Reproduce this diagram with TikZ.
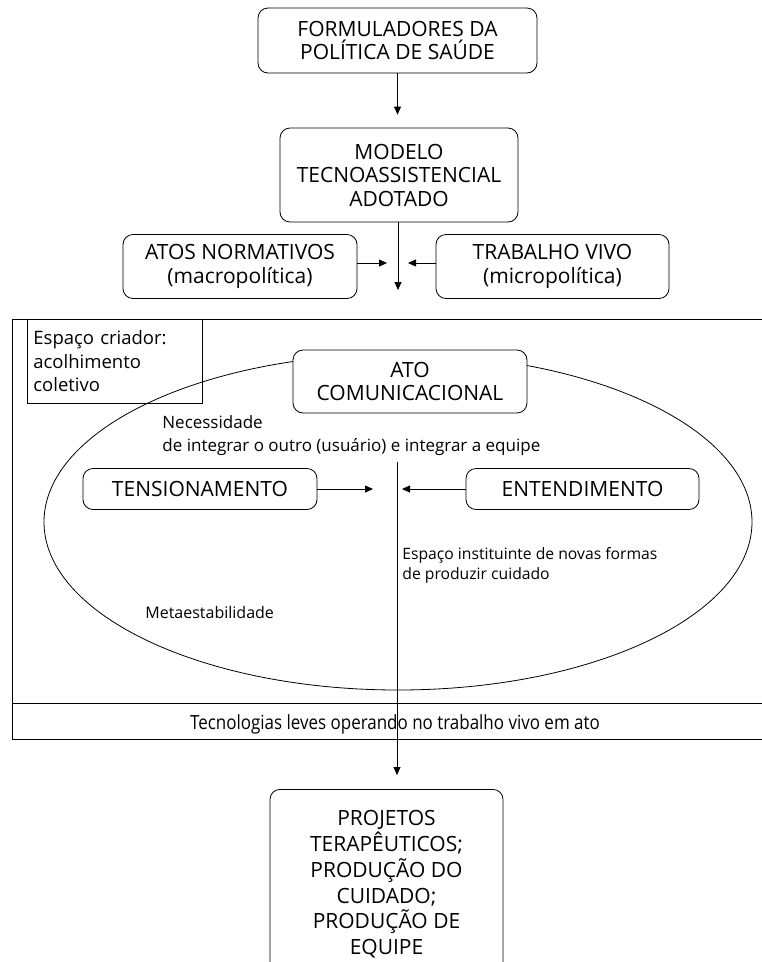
\documentclass[tikz,border=0pt]{standalone}
\usepackage{fontspec}
\setmainfont{Open Sans}
\newfontfamily\narrowfont[FakeStretch=0.87]{Open Sans}
\usetikzlibrary{arrows.meta,positioning,shapes.geometric}

\begin{document}
\begin{tikzpicture}[x=1pt, y=-1pt, line width=0.8pt,
  every node/.style={font=\fontsize{21}{23.5}\selectfont, inner sep=0pt},
  box/.style={draw, rounded corners=10pt, align=center},
  tip/.style={-{Triangle[length=8pt,width=7pt]}},
  note/.style={font=\fontsize{17}{23}\selectfont, align=left}]
  \clip (0,0) rectangle (762,962);
  % Policy makers and adopted model
  \node[box, minimum width=279, minimum height=65] (form) at (397.5,40.5) {FORMULADORES DA\\POLÍTICA DE SAÚDE};
  \node[box, minimum width=238, minimum height=94] (modelo) at (399,175) {MODELO\\TECNOASSISTENCIAL\\ADOTADO};
  \node[box, minimum width=234, minimum height=64] (atos) at (240,266.5) {ATOS NORMATIVOS\\(macropolítica)};
  \node[box, minimum width=233, minimum height=64] (trab) at (552.5,266.5) {TRABALHO VIVO\\(micropolítica)};
  \coordinate (hub) at (398,290);
  \coordinate (hubL) at (387,263);
  \coordinate (hubR) at (408,263);
  \draw[tip, shorten >=13pt] (form.south) -- (form.south |- modelo.north);
  \draw[tip] (modelo.south -| hub) -- (hub);
  \draw[tip] (atos.east |- hubL) -- (hubL);
  \draw[tip] (trab.west |- hubR) -- (hubR);

  % Frame with light technologies strip
  \draw (12,319) rectangle (780,739);
  \draw (12,703) -- (780,703);
  \node[anchor=base] (leves) at (395,729) {\narrowfont\fontsize{19.5}{22}\selectfont Tecnologias leves operando no trabalho vivo em ato};
  \node[draw, anchor=north west, inner xsep=6pt, text width=163, minimum height=84, align=left, font=\fontsize{18.5}{23.5}\selectfont] (criador) at (27,319) {Espaço criador:\\acolhimento\\coletivo};

  % Communicational act
  \draw (398,522) ellipse [x radius=354, y radius=168];
  \node[box, fill=white, minimum width=234, minimum height=63] (ato) at (410,381.5) {ATO\\COMUNICACIONAL};
  \node[note, anchor=north west] (need) at (162,415) {Necessidade\\de integrar o outro (usuário) e integrar a equipe};
  \node[box, minimum width=234, minimum height=41] (tens) at (200,489) {TENSIONAMENTO};
  \node[box, minimum width=233, minimum height=41] (ent) at (582.5,489) {ENTENDIMENTO};
  \coordinate (splitTop) at (397,462);
  \coordinate (tensEnd) at (373,489);
  \coordinate (entEnd) at (402,489);
  \draw[tip] (tens.east) -- (tensEnd);
  \draw[tip] (ent.west) -- (entEnd);
  \node[note, font=\fontsize{15.7}{20.5}\selectfont, anchor=north west] (inst) at (402,547) {Espaço instituinte de novas formas\\de produzir cuidado};
  \node[note, font=\fontsize{16}{20}\selectfont, anchor=base west] (meta) at (145,618) {Metaestabilidade};

  % Outcome
  \node[box, anchor=north, minimum width=233, minimum height=190, font=\fontsize{21}{25.8}\selectfont] (proj) at (386.5,789) {PROJETOS\\TERAPÊUTICOS;\\PRODUÇÃO DO\\CUIDADO;\\PRODUÇÃO DE\\EQUIPE};
  \draw[tip, shorten >=14pt] (splitTop) -- (splitTop |- proj.north);
\end{tikzpicture}
\end{document}
